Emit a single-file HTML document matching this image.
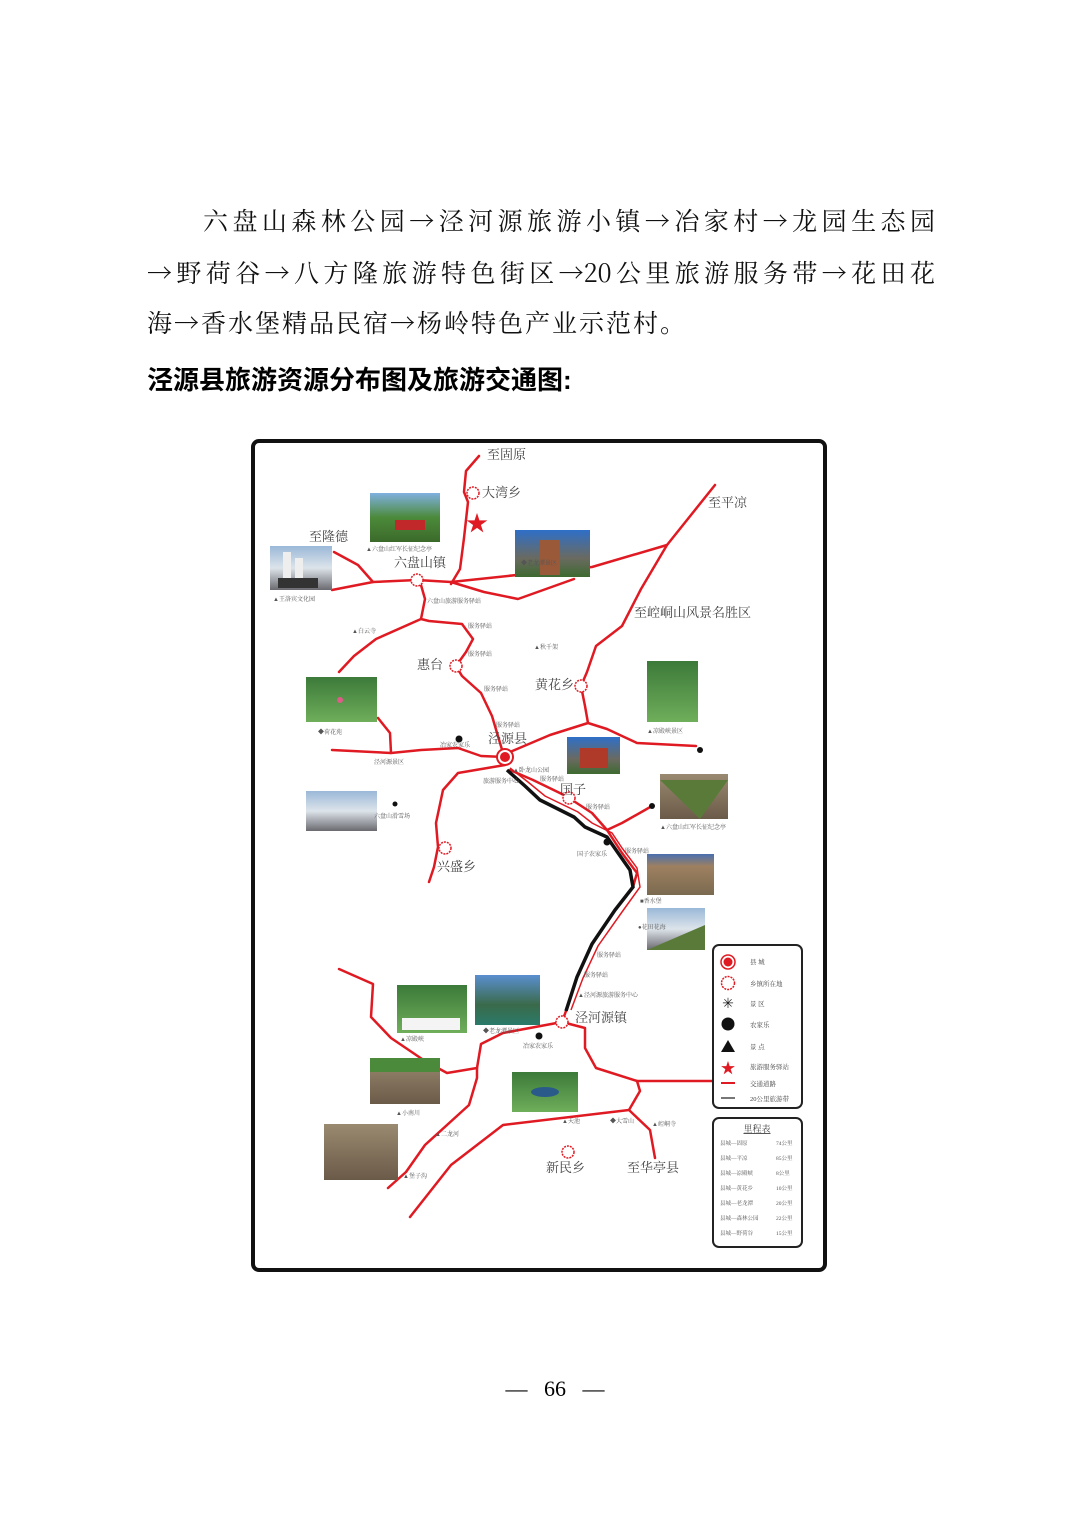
<!DOCTYPE html>
<html><head><meta charset="utf-8"><style>
html,body{margin:0;padding:0;background:#fff;}
body{width:1070px;height:1515px;position:relative;overflow:hidden;font-family:"Liberation Serif","Noto Serif CJK SC",serif;}
.ln{position:absolute;font-size:25px;color:#111;white-space:nowrap;letter-spacing:2px;font-family:"Noto Serif CJK SC","Liberation Serif",serif;}
.j{text-align:justify;text-align-last:justify;letter-spacing:0;}
.h{position:absolute;left:147px;top:360px;font-size:26px;font-weight:bold;font-family:"Liberation Sans","Noto Sans CJK SC",sans-serif;}
.pg{position:absolute;top:1376px;left:40px;width:1030px;text-align:center;font-size:22px;}
svg{position:absolute;left:0;top:0;}
</style></head><body>
<div class="ln j" style="left:203px;top:202px;width:732px;">六盘山森林公园→泾河源旅游小镇→冶家村→龙园生态园</div>
<div class="ln j" style="left:147px;top:254px;width:788px;">→野荷谷→八方隆旅游特色街区→20公里旅游服务带→花田花</div>
<div class="ln" style="left:147px;top:304px;">海→香水堡精品民宿→杨岭特色产业示范村。</div>
<div class="h">泾源县旅游资源分布图及旅游交通图:</div>
<div class="pg">—&nbsp;&nbsp;&nbsp;66&nbsp;&nbsp;&nbsp;—</div>
<svg width="1070" height="1515" viewBox="0 0 1070 1515" font-family="Liberation Serif,Noto Serif CJK SC,serif">
<defs>
<linearGradient id="g1" x1="0" y1="0" x2="0" y2="1"><stop offset="0" stop-color="#7fb0e0"/><stop offset=".5" stop-color="#4c8a3a"/><stop offset="1" stop-color="#3b6a2a"/></linearGradient>
<linearGradient id="g2" x1="0" y1="0" x2="0" y2="1"><stop offset="0" stop-color="#2f6fc8"/><stop offset=".6" stop-color="#6a6a60"/><stop offset="1" stop-color="#3d6a30"/></linearGradient>
<linearGradient id="g3" x1="0" y1="0" x2="0" y2="1"><stop offset="0" stop-color="#3c7a3a"/><stop offset="1" stop-color="#6fae5a"/></linearGradient>
<linearGradient id="g4" x1="0" y1="0" x2="0" y2="1"><stop offset="0" stop-color="#9ab8d8"/><stop offset=".5" stop-color="#dde4ea"/><stop offset="1" stop-color="#6a6a70"/></linearGradient>
<linearGradient id="g5" x1="0" y1="0" x2="0" y2="1"><stop offset="0" stop-color="#4a6fb0"/><stop offset=".3" stop-color="#9e8060"/><stop offset="1" stop-color="#7a6a50"/></linearGradient>
<linearGradient id="g6" x1="0" y1="0" x2="0" y2="1"><stop offset="0" stop-color="#5a8fd0"/><stop offset=".6" stop-color="#3a6a4a"/><stop offset="1" stop-color="#2a7a6a"/></linearGradient>
<linearGradient id="g7" x1="0" y1="0" x2="0" y2="1"><stop offset="0" stop-color="#9a8a70"/><stop offset="1" stop-color="#6a5a48"/></linearGradient>
</defs>
<rect x="253" y="441" width="572" height="829" rx="6" fill="#fff" stroke="#111" stroke-width="4"/>
<g fill="none" stroke="#e01a22" stroke-width="2.5" stroke-linecap="round" stroke-linejoin="round">
<path d="M479,456 L466,471 L464,492 L468,502 L464,538 L460,569 L451,584"/>
<path d="M332,590 L373,582 L417,580 L451,582 L484,592 L518,599 L574,579"/>
<path d="M334,552 L358,565 L373,582"/>
<path d="M451,582 L592,567 L667,545 L715,485"/>
<path d="M421,585 L425,599 L421,619 L429,621 L462,624 L473,639 L466,652 L456,666 L462,676 L481,693 L492,716 L503,753"/>
<path d="M421,619 L376,639 L354,656 L339,672"/>
<path d="M667,545 L641,589 L622,626 L596,646 L587,672 L581,686 L585,706 L588,723 L550,735 L510,752"/>
<path d="M588,723 L607,729 L637,743 L696,746"/>
<path d="M378,718 L390,733 L391,753"/>
<path d="M332,750 L391,753 L421,750 L458,748 L481,756 L505,757"/>
<path d="M505,765 L458,773 L443,790 L436,823 L438,847 L434,867 L429,882"/>
<path d="M510,770 L533,780 L566,796 L592,813 L607,830 L622,823 L652,806"/>
<path d="M607,830 L622,853 L637,873 L633,887 L615,910 L592,944 L577,977 L566,1011 L562,1022"/>
<path d="M339,969 L373,984 L371,1017 L391,1038 L425,1061 L447,1073 L477,1068"/>
<path d="M477,1068 L481,1044 L503,1033 L562,1022"/>
<path d="M477,1068 L477,1078 L469,1105 L425,1145 L406,1172 L388,1188"/>
<path d="M562,1022 L585,1028 L585,1048 L596,1068 L637,1081 L715,1081"/>
<path d="M637,1081 L640,1091 L629,1110 L503,1125 L451,1165 L410,1217"/>
<path d="M629,1110 L650,1130 L655,1158"/>
</g>
<path d="M507,770 L525,786 L540,800 L574,817 L585,827 L607,837 L616,850 L630,870 L633,887 L615,910 L592,944 L577,977 L566,1011" fill="none" stroke="#111" stroke-width="3.5"/>
<path d="M510,768 L528,782 L545,796 L578,812 L592,823 L612,833 L622,848 L637,868 L640,887 L622,912 L598,946 L583,978 L571,1010" fill="none" stroke="#e01a22" stroke-width="1.5"/>
<rect x="370" y="493" width="70" height="49" fill="url(#g1)"/><rect x="395" y="520" width="30" height="10" fill="#c0282a"/>
<rect x="270" y="546" width="62" height="44" fill="url(#g4)"/><rect x="283" y="552" width="8" height="28" fill="#eee"/><rect x="295" y="558" width="8" height="22" fill="#eee"/><rect x="278" y="578" width="40" height="10" fill="#333"/>
<rect x="515" y="530" width="75" height="47" fill="url(#g2)"/><rect x="540" y="540" width="20" height="35" fill="#9a5a3a"/>
<rect x="306" y="677" width="71" height="45" fill="url(#g3)"/><circle cx="340" cy="700" r="3" fill="#e05a8a"/>
<rect x="647" y="661" width="51" height="61" fill="url(#g3)"/>
<rect x="567" y="737" width="53" height="37" fill="url(#g2)"/><rect x="580" y="748" width="28" height="20" fill="#b03a2a"/>
<rect x="306" y="791" width="71" height="40" fill="url(#g4)"/>
<rect x="660" y="774" width="68" height="45" fill="url(#g7)"/><path d="M660,780 L700,819 L728,780Z" fill="#5a7a3a"/>
<rect x="647" y="854" width="67" height="41" fill="url(#g5)"/>
<rect x="647" y="908" width="58" height="42" fill="url(#g4)"/><path d="M647,950 L705,925 L705,950Z" fill="#5a7a3a"/>
<rect x="397" y="985" width="70" height="48" fill="url(#g3)"/><rect x="402" y="1018" width="58" height="12" fill="#f4f4f4"/>
<rect x="475" y="975" width="65" height="50" fill="url(#g6)"/>
<rect x="370" y="1058" width="70" height="46" fill="url(#g7)"/><rect x="370" y="1058" width="70" height="14" fill="#4a8a3a"/>
<rect x="512" y="1072" width="66" height="40" fill="url(#g3)"/><ellipse cx="545" cy="1092" rx="14" ry="5" fill="#2a5a8a"/>
<rect x="324" y="1124" width="74" height="56" fill="url(#g7)"/>
<g fill="#fff" stroke="#e01a22" stroke-width="1.5" stroke-dasharray="2,1">
<circle cx="473" cy="493" r="6"/><circle cx="417" cy="580" r="6"/><circle cx="456" cy="666" r="6"/><circle cx="581" cy="686" r="6"/><circle cx="569" cy="798" r="6"/><circle cx="445" cy="848" r="6"/><circle cx="562" cy="1022" r="6"/><circle cx="568" cy="1152" r="6"/>
</g>
<circle cx="505" cy="757" r="8" fill="#fff" stroke="#e01a22" stroke-width="2"/><circle cx="505" cy="757" r="5" fill="#e01a22"/>
<text x="477" y="531" font-size="22" fill="#e01a22" text-anchor="middle">★</text>
<g fill="#111"><circle cx="459" cy="739" r="3.5"/><circle cx="700" cy="750" r="3"/><circle cx="652" cy="806" r="3"/><circle cx="607" cy="842" r="3.5"/><circle cx="539" cy="1036" r="3.5"/><circle cx="395" cy="804" r="2.5"/></g>
<g font-size="13" fill="#444">
<text x="487" y="459">至固原</text><text x="482" y="497">大湾乡</text><text x="708" y="507">至平凉</text><text x="309" y="541">至隆德</text>
<text x="394" y="567">六盘山镇</text><text x="634" y="617">至崆峒山风景名胜区</text><text x="417" y="669">惠台</text><text x="535" y="689">黄花乡</text>
<text x="488" y="743">泾源县</text><text x="560" y="794">国子</text><text x="437" y="871">兴盛乡</text><text x="575" y="1022">泾河源镇</text>
<text x="546" y="1172">新民乡</text><text x="627" y="1172">至华亭县</text>
</g>
<g font-size="6" fill="#555">
<text x="366" y="551">▲六盘山红军长征纪念亭</text><text x="273" y="601">▲王洛宾文化园</text><text x="521" y="565">◆老龙潭景区</text>
<text x="427" y="603">六盘山旅游服务驿站</text><text x="468" y="628">服务驿站</text><text x="468" y="656">服务驿站</text><text x="484" y="691">服务驿站</text><text x="496" y="727">服务驿站</text>
<text x="352" y="633">▲白云寺</text><text x="534" y="649">▲秋千架</text><text x="318" y="734">◆荷花苑</text><text x="647" y="733">▲凉殿峡景区</text>
<text x="374" y="764">泾河源景区</text><text x="440" y="747">冶家农家乐</text><text x="513" y="772">▲卧龙山公园</text><text x="483" y="783">旅游服务中心</text>
<text x="540" y="781">服务驿站</text><text x="586" y="809">服务驿站</text><text x="660" y="829">▲六盘山红军长征纪念亭</text><text x="374" y="818">六盘山滑雪场</text>
<text x="577" y="856">国子农家乐</text><text x="625" y="853">服务驿站</text><text x="640" y="903">■香水堡</text><text x="638" y="929">●花田花海</text>
<text x="597" y="957">服务驿站</text><text x="584" y="977">服务驿站</text><text x="578" y="997">▲泾河源旅游服务中心</text><text x="483" y="1033">◆老龙潭景区</text>
<text x="400" y="1041">▲凉殿峡</text><text x="523" y="1048">冶家农家乐</text><text x="396" y="1115">▲小南川</text><text x="435" y="1136">▲二龙河</text>
<text x="403" y="1178">▲堡子沟</text><text x="562" y="1123">▲天池</text><text x="610" y="1123">◆大雪山</text><text x="652" y="1126">▲崆峒寺</text>
</g>
<rect x="713" y="945" width="89" height="163" rx="6" fill="#fff" stroke="#222" stroke-width="2"/>
<circle cx="728" cy="962" r="7" fill="#fff" stroke="#e01a22" stroke-width="1.5"/><circle cx="728" cy="962" r="4.5" fill="#e01a22"/>
<circle cx="728" cy="983" r="6.5" fill="#fff" stroke="#e01a22" stroke-width="1.5" stroke-dasharray="2,1"/>
<text x="728" y="1008" font-size="14" text-anchor="middle" fill="#222">✳</text>
<circle cx="728" cy="1024" r="6.5" fill="#111"/>
<path d="M721,1052 L728,1040 L735,1052Z" fill="#111"/>
<text x="728" y="1073" font-size="15" text-anchor="middle" fill="#e01a22">★</text>
<rect x="721" y="1082" width="14" height="2" fill="#e01a22"/><rect x="721" y="1097" width="14" height="2" fill="#777"/>
<g font-size="6.5" fill="#444"><text x="750" y="964">县 城</text><text x="750" y="986">乡镇所在地</text><text x="750" y="1006">景 区</text><text x="750" y="1027">农家乐</text><text x="750" y="1049">景 点</text><text x="750" y="1069">旅游服务驿站</text><text x="750" y="1086">交通道路</text><text x="750" y="1101">20公里旅游带</text></g>
<rect x="713" y="1118" width="89" height="129" rx="6" fill="#fff" stroke="#222" stroke-width="2"/>
<text x="757" y="1132" font-size="9" text-anchor="middle" fill="#444" text-decoration="underline">里程表</text>
<g font-size="5.5" fill="#555">
<text x="720" y="1145">县城—固原</text><text x="776" y="1145">74公里</text>
<text x="720" y="1160">县城—平凉</text><text x="776" y="1160">85公里</text>
<text x="720" y="1175">县城—凉殿峡</text><text x="776" y="1175">8公里</text>
<text x="720" y="1190">县城—黄花乡</text><text x="776" y="1190">10公里</text>
<text x="720" y="1205">县城—老龙潭</text><text x="776" y="1205">20公里</text>
<text x="720" y="1220">县城—森林公园</text><text x="776" y="1220">22公里</text>
<text x="720" y="1235">县城—野荷谷</text><text x="776" y="1235">15公里</text>
</g>
</svg>
</body></html>
